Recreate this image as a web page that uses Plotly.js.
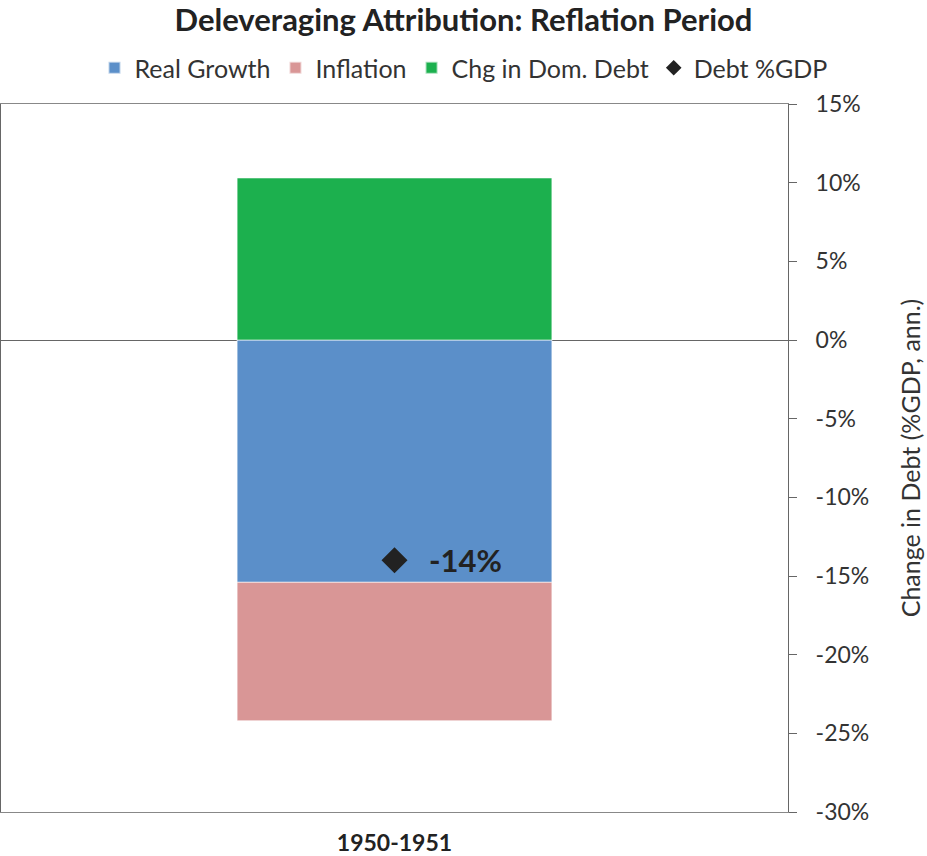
<!DOCTYPE html>
<html>
<head>
<meta charset="utf-8">
<script src="https://cdn.plot.ly/plotly-3.0.1.min.js"></script>
<style>
  html, body { margin: 0; padding: 0; background: #fff; }
  #chart { width: 927px; height: 856px; }
</style>
</head>
<body>
<div id="chart"></div>
<script>
const periods = ['1950-1951'];
const realGrowth = [-15.4];
const inflation = [-8.8];
const chgDomDebt = [10.3];
const debtGdp = [-14];
const yTicks = [15, 10, 5, 0, -5, -10, -15, -20, -25, -30];

const font = 'Lato, "Open Sans", sans-serif';

const bar = (name, y, color) => ({
  x: periods,
  y,
  name,
  type: 'bar',
  marker: { color, line: { color: 'rgba(255,255,255,0.6)', width: 1 } },
  hoverinfo: 'skip'
});

const traces = [
  bar('Real Growth', realGrowth, '#5b8fc9'),
  bar('Inflation', inflation, '#d99696'),
  bar('Chg in Dom. Debt', chgDomDebt, '#1cb04e'),
  {
    x: periods,
    y: debtGdp,
    name: 'Debt %GDP',
    type: 'scatter',
    mode: 'markers',
    marker: { symbol: 'diamond', size: 20, color: '#222' },
    hoverinfo: 'skip'
  }
];

const layout = {
  width: 927,
  height: 856,
  margin: { l: 1, r: 139, t: 104, b: 44 },
  paper_bgcolor: '#fff',
  plot_bgcolor: '#fff',
  font: { family: font, color: '#333' },
  barmode: 'relative',
  bargap: 0.6,
  showlegend: true,
  title: {
    text: 'Deleveraging Attribution: Reflation Period',
    font: { family: font, size: 31, weight: 'bold', color: '#222' },
    x: 0.5, xref: 'container', xanchor: 'center',
    y: 1 - 20 / 856, yref: 'container', yanchor: 'middle'
  },
  legend: {
    orientation: 'h',
    x: 0.5, xref: 'container', xanchor: 'center',
    y: 1 - 68 / 856, yref: 'container', yanchor: 'middle',
    font: { family: font, size: 25, color: '#333' },
    itemwidth: 30,
    itemsizing: 'constant',
    traceorder: 'normal'
  },
  xaxis: {
    type: 'category',
    showline: true,
    mirror: true,
    linecolor: '#888',
    linewidth: 1,
    ticks: '',
    ticklabelstandoff: 10,
    tickfont: { family: font, size: 23, weight: 'bold', color: '#222' },
    showgrid: false,
    fixedrange: true
  },
  yaxis: {
    side: 'right',
    range: [-30, 15],
    tickmode: 'array',
    tickvals: yTicks,
    ticktext: yTicks.map(v => v + '%'),
    showline: true,
    mirror: true,
    linecolor: '#666',
    linewidth: 1,
    ticks: 'outside',
    ticklen: 8,
    tickcolor: '#666',
    ticklabelstandoff: 14,
    tickfont: { family: font, size: 23, color: '#333' },
    showgrid: false,
    zeroline: true,
    zerolinecolor: '#666',
    zerolinewidth: 1,
    layer: 'above traces',
    title: {
      text: 'Change in Debt (%GDP, ann.)',
      font: { family: font, size: 25, color: '#333' },
      standoff: 34
    },
    fixedrange: true
  },
  annotations: [{
    x: periods[0],
    y: debtGdp[0],
    text: debtGdp[0] + '%',
    showarrow: false,
    xanchor: 'left',
    yanchor: 'middle',
    xshift: 32,
    font: { family: font, size: 31, weight: 'bold', color: '#222' }
  }]
};

Plotly.newPlot('chart', traces, layout, { displayModeBar: false, staticPlot: true });
</script>
</body>
</html>
